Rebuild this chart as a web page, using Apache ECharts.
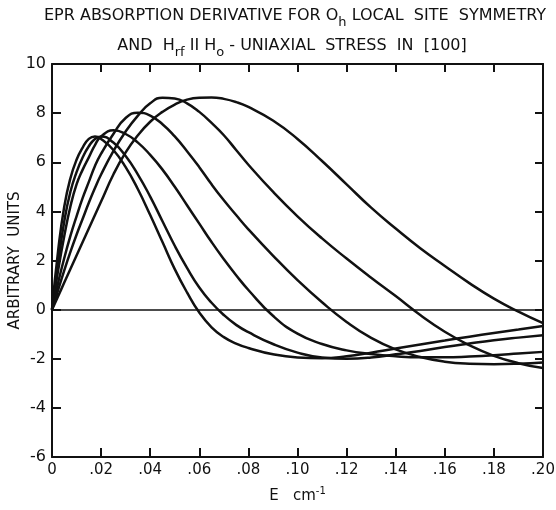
<!DOCTYPE html>
<html><head><meta charset="utf-8">
<script src="https://cdn.jsdelivr.net/npm/echarts@6/dist/echarts.min.js"></script>
<style>html,body{margin:0;padding:0;background:#fff}#c{width:556px;height:510px}</style>
</head><body><div id="c"></div>
<script>
// Energy grid (cm^-1)
const energy = [0, 0.0025, 0.005, 0.0075, 0.01, 0.0125, 0.015, 0.0175, 0.02, 0.025, 0.03, 0.035, 0.04, 0.045, 0.05, 0.055, 0.06, 0.065, 0.07, 0.075, 0.08, 0.09, 0.10, 0.11, 0.12, 0.13, 0.14, 0.15, 0.16, 0.17, 0.18, 0.19, 0.20];
// Six EPR absorption-derivative curves (arbitrary units)
const curve1 = [0, 2.4, 4.2, 5.35, 6.1, 6.6, 6.95, 7.05, 6.95, 6.5, 5.8, 4.9, 3.85, 2.75, 1.65, 0.7, -0.12, -0.72, -1.12, -1.38, -1.56, -1.82, -1.95, -1.98, -1.9, -1.75, -1.58, -1.42, -1.26, -1.1, -0.95, -0.81, -0.67];
const curve2 = [0, 1.9, 3.6, 4.8, 5.6, 6.2, 6.65, 6.95, 7.05, 6.8, 6.25, 5.5, 4.6, 3.6, 2.6, 1.7, 0.9, 0.28, -0.22, -0.62, -0.92, -1.4, -1.75, -1.95, -2.0, -1.95, -1.82, -1.68, -1.52, -1.38, -1.25, -1.14, -1.04];
const curve3 = [0, 1.6, 3.0, 4.2, 5.1, 5.7, 6.2, 6.7, 7.05, 7.3, 7.15, 6.8, 6.3, 5.7, 5.0, 4.25, 3.5, 2.75, 2.05, 1.4, 0.8, -0.25, -0.98, -1.4, -1.66, -1.81, -1.9, -1.94, -1.94, -1.91, -1.86, -1.79, -1.72];
const curve4 = [0, 1.1, 2.1, 3.0, 3.8, 4.55, 5.2, 5.85, 6.35, 7.15, 7.8, 8.02, 7.9, 7.55, 7.05, 6.45, 5.8, 5.1, 4.45, 3.85, 3.27, 2.2, 1.2, 0.3, -0.5, -1.15, -1.62, -1.93, -2.12, -2.2, -2.22, -2.2, -2.15];
const curve5 = [0, 0.8, 1.6, 2.35, 3.05, 3.7, 4.35, 4.95, 5.5, 6.45, 7.25, 7.9, 8.4, 8.63, 8.6, 8.4, 8.05, 7.6, 7.1, 6.5, 5.9, 4.8, 3.8, 2.9, 2.08, 1.3, 0.55, -0.22, -0.9, -1.45, -1.88, -2.18, -2.38];
const curve6 = [0, 0.55, 1.1, 1.65, 2.2, 2.75, 3.3, 3.85, 4.4, 5.5, 6.4, 7.1, 7.65, 8.05, 8.35, 8.55, 8.63, 8.64, 8.58, 8.45, 8.25, 7.7, 6.95, 6.05, 5.1, 4.15, 3.3, 2.5, 1.78, 1.08, 0.45, -0.08, -0.55];
const curves = [curve1, curve2, curve3, curve4, curve5, curve6];

const FONT = '"DejaVu Sans", "Liberation Sans", sans-serif';
const INK = '#111';

const chart = echarts.init(document.getElementById('c'), null, {renderer: 'canvas'});

const xFmt = v => (Math.abs(v) < 1e-9 ? '0' : v.toFixed(2).replace(/^0/, ''));

const series = curves.map((c, k) => ({
  type: 'line',
  data: energy.map((e, i) => [e, c[i]]),
  showSymbol: false,
  smooth: 0.5,
  lineStyle: {color: INK, width: 2.5},
  silent: true,
  z: 3,
  markLine: k === 0 ? {
    silent: true, symbol: 'none', label: {show: false},
    lineStyle: {color: INK, width: 1.5, type: 'solid'},
    data: [{yAxis: 0}]
  } : undefined
}));

chart.setOption({
  animation: false,
  backgroundColor: '#fff',
  grid: {left: 52, right: 13, top: 64, bottom: 53, containLabel: false, outerBoundsMode: 'none'},
  graphic: [
    {type: 'text', x: 295, y: 16, style: {
      text: 'EPR ABSORPTION DERIVATIVE FOR O{sub|h} LOCAL  SITE  SYMMETRY',
      font: '16px ' + FONT, fill: INK, align: 'center', verticalAlign: 'middle',
      rich: {sub: {fontSize: 13, fontFamily: FONT, fill: INK, padding: [14, 0, 0, 0]}}
    }},
    {type: 'text', x: 292, y: 46, style: {
      text: 'AND  H{sub|rf} II H{sub|o} - UNIAXIAL  STRESS  IN  [100]',
      font: '16px ' + FONT, fill: INK, align: 'center', verticalAlign: 'middle',
      rich: {sub: {fontSize: 13, fontFamily: FONT, fill: INK, padding: [14, 0, 0, 0]}}
    }}
  ],
  xAxis: [
    {type: 'value', min: 0, max: 0.2, interval: 0.02, position: 'bottom',
     name: 'E   cm{sup|-1}', nameLocation: 'middle', nameGap: 29,
     nameTextStyle: {color: INK, fontFamily: FONT, fontSize: 15,
       rich: {sup: {fontSize: 10, fontFamily: FONT, color: INK, padding: [0, 0, 10, 0]}}},
     axisLine: {show: true, onZero: false, lineStyle: {color: INK, width: 2}},
     axisTick: {show: true, inside: true, length: 9, lineStyle: {color: INK, width: 2}},
     axisLabel: {color: INK, fontFamily: FONT, fontSize: 15, margin: 6, formatter: xFmt},
     splitLine: {show: false}},
    {type: 'value', min: 0, max: 0.2, interval: 0.02, position: 'top',
     axisLine: {show: true, onZero: false, lineStyle: {color: INK, width: 2}},
     axisTick: {show: true, inside: true, length: 8, lineStyle: {color: INK, width: 2}},
     axisLabel: {show: false}, splitLine: {show: false}}
  ],
  yAxis: [
    {type: 'value', min: -6, max: 10, interval: 2, position: 'left',
     name: 'ARBITRARY  UNITS', nameLocation: 'middle', nameGap: 29, nameRotate: 90,
     nameMoveOverlap: false,
     nameTextStyle: {color: INK, fontFamily: FONT, fontSize: 15},
     axisLine: {show: true, onZero: false, lineStyle: {color: INK, width: 2}},
     axisTick: {show: true, inside: true, length: 9, lineStyle: {color: INK, width: 2}},
     axisLabel: {color: INK, fontFamily: FONT, fontSize: 16, margin: 6},
     splitLine: {show: false}},
    {type: 'value', min: -6, max: 10, interval: 2, position: 'right',
     axisLine: {show: true, onZero: false, lineStyle: {color: INK, width: 2}},
     axisTick: {show: true, inside: true, length: 8, lineStyle: {color: INK, width: 2}},
     axisLabel: {show: false}, splitLine: {show: false}}
  ],
  series: series
});
</script>
</body></html>
